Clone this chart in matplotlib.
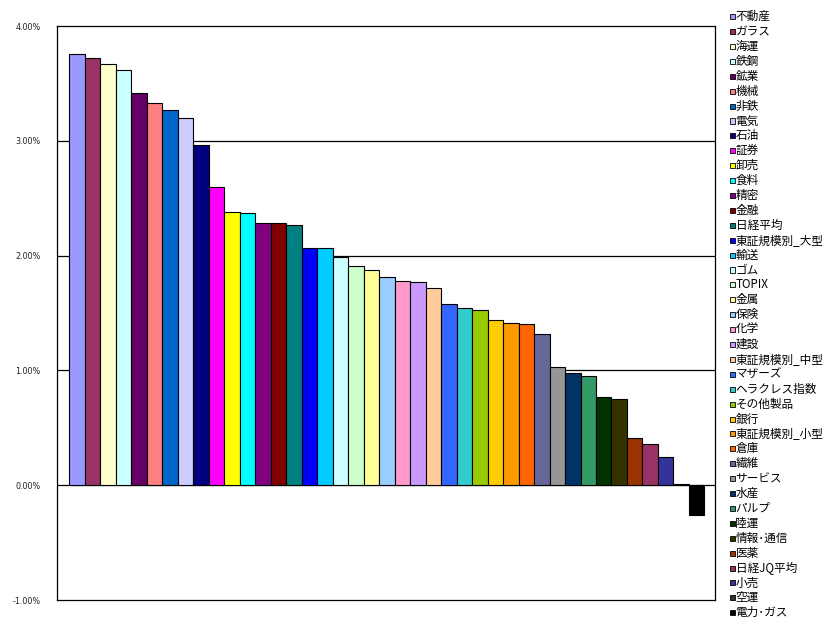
import matplotlib
matplotlib.use("Agg")
import matplotlib.pyplot as plt
from matplotlib.patches import Rectangle
from matplotlib.ticker import FuncFormatter

plt.rcParams["font.family"] = ["Noto Sans CJK JP", "DejaVu Sans"]

sectors = [
    "不動産", "ガラス", "海運", "鉄鋼", "鉱業", "機械", "非鉄", "電気", "石油", "証券",
    "卸売", "食料", "精密", "金融", "日経平均", "東証規模別_大型", "輸送", "ゴム", "TOPIX", "金属",
    "保険", "化学", "建設", "東証規模別_中型", "マザーズ", "ヘラクレス指数", "その他製品", "銀行",
    "東証規模別_小型", "倉庫", "繊維", "サービス", "水産", "パルプ", "陸運", "情報･通信", "医薬",
    "日経JQ平均", "小売", "空運", "電力･ガス",
]

changes = [
    3.76, 3.72, 3.67, 3.62, 3.42, 3.33, 3.27, 3.20, 2.96, 2.60,
    2.38, 2.37, 2.28, 2.28, 2.27, 2.07, 2.07, 1.99, 1.91, 1.875,
    1.81, 1.78, 1.77, 1.72, 1.58, 1.545, 1.53, 1.44, 1.41, 1.40,
    1.32, 1.03, 0.975, 0.955, 0.77, 0.75, 0.41, 0.355, 0.245, 0.01,
    -0.26,
]

colors = [
    "#9999FF", "#993366", "#FFFFCC", "#CCFFFF", "#660066", "#FF8080", "#0066CC", "#CCCCFF",
    "#000080", "#FF00FF", "#FFFF00", "#00FFFF", "#800080", "#800000", "#008080", "#0000FF",
    "#00CCFF", "#CCFFFF", "#CCFFCC", "#FFFF99", "#99CCFF", "#FF99CC", "#CC99FF", "#FFCC99",
    "#3366FF", "#33CCCC", "#99CC00", "#FFCC00", "#FF9900", "#FF6600", "#666699", "#969696",
    "#003366", "#339966", "#003300", "#333300", "#993300", "#993366", "#333399", "#333333",
    "#000000",
]

W, H = 834, 636
fig = plt.figure(figsize=(W / 100, H / 100), dpi=100)
ax = fig.add_axes([57.3 / W, 1 - 600 / H, (715.3 - 57.3) / W, (600 - 26) / H])

n = len(sectors)
ax.bar(range(n), changes, width=1.0, color=colors, edgecolor="black",
       linewidth=0.8, zorder=2)

ax.set_xlim(-1.27, n - 1 + 1.2)
ax.set_ylim(-1, 4)
ax.set_yticks([-1, 0, 1, 2, 3, 4])
ax.yaxis.set_major_formatter(FuncFormatter(lambda v, p: f"{v:.2f}%"))
ax.set_xticks([])
ax.tick_params(axis="y", length=0, pad=12, labelsize=5.8, labelcolor="#222222")
for lab in ax.get_yticklabels():
    lab.set_family("DejaVu Sans")

for v in [0, 1, 2, 3]:
    ax.axhline(v, color="black", linewidth=0.9, zorder=1)
for sp in ax.spines.values():
    sp.set_color("black")
    sp.set_linewidth(0.9)

# legend drawn by hand so the rows stay tight
y0, step = 16.7, 14.9
for i, (name, c) in enumerate(zip(sectors, colors)):
    yc = y0 + i * step
    fig.patches.append(Rectangle((729.5 / W, 1 - (yc + 2.5) / H), 5 / W, 5 / H,
                                 transform=fig.transFigure, facecolor=c,
                                 edgecolor="black", linewidth=0.6))
    fig.text(735.5 / W, 1 - yc / H, name, fontsize=8.4, va="center", ha="left")

fig.savefig("out.png", dpi=100)
